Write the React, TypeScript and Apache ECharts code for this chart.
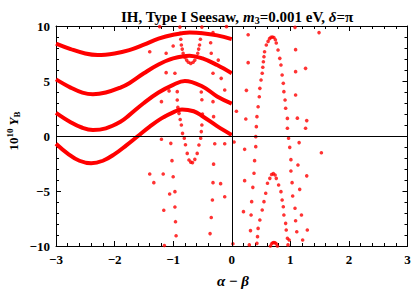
import React, { useEffect, useRef } from "react";
import * as echarts from "echarts";

// Continuous (dense) curves: [alpha - beta, 10^10 Y_B]
const curveA: number[][] = [
  [-3, 8.4], [-2.75, 7.9], [-2.5, 7.5], [-2.29, 7.36], [-2, 7.5], [-1.75, 7.8], [-1.5, 8.3],
  [-1.25, 8.85], [-1, 9.2], [-0.72, 9.4], [-0.5, 9.35], [-0.25, 9.15], [0, 8.8],
];
const curveB: number[][] = [
  [-3, 5.15], [-2.75, 4.4], [-2.55, 3.95], [-2.37, 3.8], [-2.15, 3.95], [-1.9, 4.4], [-1.75, 4.8],
  [-1.5, 5.7], [-1.25, 6.5], [-1, 7.05], [-0.72, 7.3], [-0.5, 7.05], [-0.25, 6.45], [0, 5.7],
];
const curveC: number[][] = [
  [-3, 2.1], [-2.75, 1.25], [-2.55, 0.75], [-2.37, 0.55], [-2.15, 0.7], [-1.9, 1.3], [-1.75, 1.9],
  [-1.5, 3.0], [-1.25, 3.95], [-1, 4.65], [-0.8, 5.0], [-0.5, 4.5], [-0.25, 3.6], [0, 2.95],
];
const curveD: number[][] = [
  [-3, -0.7], [-2.8, -1.6], [-2.6, -2.25], [-2.4, -2.48], [-2.2, -2.25], [-2, -1.65], [-1.8, -0.85],
  [-1.6, 0], [-1.4, 0.85], [-1.2, 1.6], [-1, 2.15], [-0.85, 2.42], [-0.65, 2.25], [-0.5, 1.8],
  [-0.25, 0.9], [0, 0.1],
];

// Dotted pole structures
const upperU: number[][] = [
  [-0.885, 9.9], [-0.88, 9.34], [-0.87, 8.8], [-0.86, 8.27], [-0.845, 7.9], [-0.83, 7.52],
  [-0.8, 7.15], [-0.77, 6.9], [-0.74, 6.7], [-0.7, 6.6], [-0.66, 6.7], [-0.63, 6.9],
  [-0.6, 7.2], [-0.58, 7.52], [-0.565, 7.9], [-0.55, 8.27], [-0.535, 8.8], [-0.52, 9.34], [-0.51, 9.9],
];
const lowerU: number[][] = [
  [-0.93, 4.03], [-0.93, 3.27], [-0.92, 2.6], [-0.9, 2.06], [-0.88, 1.5], [-0.86, 1.0],
  [-0.84, 0.24], [-0.81, -0.2], [-0.79, -0.8], [-0.76, -1.58], [-0.73, -2.18], [-0.7, -2.38],
  [-0.67, -2.42], [-0.63, -2.12], [-0.59, -1.58], [-0.56, -0.82], [-0.53, -0.2], [-0.52, 0.4],
  [-0.51, 1.0], [-0.5, 2.0], [-0.51, 3.3], [-0.52, 4.0],
];
const upperPeak: number[][] = [
  [0.3, -9.9], [0.32, -8.6], [0.33, -7.18], [0.34, -5.97], [0.36, -4.67], [0.38, -3.39],
  [0.39, -2.24], [0.41, -0.97], [0.41, -0.06], [0.42, 0.85], [0.43, 1.76], [0.45, 2.66],
  [0.47, 3.57], [0.48, 4.33], [0.5, 5.09], [0.52, 5.7], [0.53, 6.25], [0.54, 6.75],
  [0.55, 7.21], [0.56, 7.66], [0.59, 8.27], [0.62, 8.6], [0.645, 8.85], [0.67, 8.97],
  [0.695, 9.0], [0.72, 8.95], [0.745, 8.75], [0.76, 8.45], [0.79, 7.82], [0.82, 7.06],
  [0.84, 6.45], [0.86, 5.55], [0.88, 4.79], [0.89, 4.03], [0.91, 3.27], [0.92, 2.52],
  [0.95, 1.6], [0.95, 0.7], [0.97, -0.2], [0.99, -1.03], [1.01, -2.15], [1.01, -3.18],
  [1.03, -4.24], [1.04, -5.45], [1.08, -6.57], [1.09, -7.7], [1.11, -8.7],
];
const lowerPeak: number[][] = [
  [0.43, -9.76], [0.44, -9.15], [0.45, -8.4], [0.48, -7.64], [0.52, -6.73], [0.55, -5.97],
  [0.58, -5.2], [0.61, -4.3], [0.65, -3.85], [0.68, -3.5], [0.71, -3.42], [0.74, -3.55],
  [0.76, -3.85], [0.8, -4.45], [0.84, -5.06], [0.86, -5.82], [0.88, -6.43], [0.89, -7.18],
  [0.92, -7.94], [0.93, -8.55], [0.95, -9.3], [0.96, -9.9],
];
const bottomArc: number[][] = [
  [0.66, -10], [0.68, -9.8], [0.7, -9.7], [0.72, -9.68], [0.74, -9.7], [0.76, -9.8], [0.78, -10],
];

// Isolated dots
const strayDots: number[][] = [
  [-1.23, 9.94], [-1.4, 7.66], [-1.12, 7.52], [-1.0, 8.18], [-1.12, 5.76], [-0.97, 5.7],
  [-1.07, 4.1], [-1.2, 3.12], [-1.15, 1.76], [-1.2, -0.3], [-1.04, -0.67],
  [-0.09, 9.94], [-0.32, 9.4], [-0.36, 8.48], [-0.35, 7.52], [-0.23, 6.9], [-0.32, 5.7],
  [-0.18, 5.24], [-0.12, 4.18], [-0.32, 3.12], [0.08, 2.25], [-0.31, 1.76], [-0.29, -0.7],
  [-0.12, -0.7], [0.04, -0.55],
  [-1.02, -2.24], [-1.4, -3.45], [-1.17, -3.45], [-1.0, -3.7], [-1.33, -4.24], [-0.97, -5.06],
  [-1.06, -5.27], [-1.16, -6.75], [-0.97, -6.45], [-0.96, -7.79], [-0.95, -9.07], [-1.15, -9.95],
  [-0.31, -2.56], [-0.32, -4.24], [-0.19, -4.33], [-0.12, -5.52], [-0.33, -5.82], [-0.35, -7.41],
  [-0.37, -8.87], [0.02, -9.8],
  [0.28, 9.2], [1.08, 9.88], [1.49, 9.4], [1.09, 7.85], [0.28, 6.67], [1.09, 5.85], [1.26, 6.15],
  [0.25, 4.15], [1.09, 3.73], [0.24, 1.55], [1.12, 1.62], [1.28, 1.4], [1.26, 0.7],
  [0.22, -1.21], [0.22, -4.06], [0.2, -6.88], [0.98, -9.45], [1.15, -0.6], [1.13, -2.64],
  [1.28, -3.62], [1.16, -4.85], [1.19, -7.18], [1.29, -8.55], [1.21, -9.45], [1.53, -1.52],
];

const xTicks = { min: -3, max: 3, interval: 1 };
const yTicks = { min: -10, max: 10, interval: 5 };

const RED = "#ff0000";
const FONT = '"Liberation Serif", "Times New Roman", serif';

const fmt = (v: number) => (v < 0 ? "\u2212" + Math.abs(v) : String(v));

export default function App() {
  const ref = useRef<HTMLDivElement>(null);
  useEffect(() => {
    if (!ref.current) return;
    const chart = echarts.init(ref.current, undefined, { renderer: "svg" });
    const axisCommon = {
      type: "value" as const,
      axisLine: { show: true, onZero: false, lineStyle: { color: "#000", width: 1 } },
      axisTick: { show: true, inside: true, length: 5, lineStyle: { color: "#000" } },
      minorTick: { show: true, splitNumber: 5, length: 3, lineStyle: { color: "#000" } },
      splitLine: { show: false },
      minorSplitLine: { show: false },
    };
    const labelStyle = {
      fontFamily: FONT,
      fontWeight: "bold" as const,
      fontSize: 13,
      color: "#000",
      formatter: fmt,
    };
    const lineSeries = (data: number[][]) => ({
      type: "line",
      data,
      smooth: 0.4,
      showSymbol: false,
      symbol: "none",
      lineStyle: { color: RED, width: 4 },
      z: 3,
    });
    const dotSeries = (data: number[][]) => ({
      type: "scatter",
      data,
      symbolSize: 3.6,
      itemStyle: { color: RED },
      z: 4,
    });
    chart.setOption({
      animation: false,
      title: {
        left: 232,
        top: 3,
        textAlign: "center",
        text: "{b|IH, Type I Seesaw, }{i|m}{s|3}{b|=0.001 eV, }{i|\u03b4}{b|=\u03c0}",
        textStyle: {
          rich: {
            b: { fontFamily: FONT, fontWeight: "bold", fontSize: 15, color: "#000", lineHeight: 17 },
            i: { fontFamily: FONT, fontWeight: "bold", fontStyle: "italic", fontSize: 15, color: "#000", lineHeight: 17 },
            s: { fontFamily: FONT, fontWeight: "bold", fontSize: 10, color: "#000", lineHeight: 10, verticalAlign: "bottom" },
          },
        },
      },
      grid: { left: 56, right: 7.5, top: 26, bottom: 46, containLabel: false },
      xAxis: [
        { ...axisCommon, ...xTicks, position: "bottom", axisLabel: { ...labelStyle, margin: 7 } },
        { ...axisCommon, ...xTicks, position: "top", axisLabel: { show: false } },
      ],
      yAxis: [
        { ...axisCommon, ...yTicks, position: "left", axisLabel: { ...labelStyle, margin: 6 } },
        { ...axisCommon, ...yTicks, position: "right", axisLabel: { show: false } },
      ],
      graphic: [
        {
          type: "text",
          x: 13,
          y: 131,
          rotation: Math.PI / 2,
          style: {
            text: "{b|10}{sup|10}{i| Y}{s|B}",
            align: "center",
            verticalAlign: "middle",
            rich: {
              b: { fontFamily: FONT, fontWeight: "bold", fontSize: 13, fill: "#000", lineHeight: 16 },
              sup: { fontFamily: FONT, fontWeight: "bold", fontSize: 9, fill: "#000", lineHeight: 9, verticalAlign: "top" },
              i: { fontFamily: FONT, fontWeight: "bold", fontStyle: "italic", fontSize: 13, fill: "#000", lineHeight: 16 },
              s: { fontFamily: FONT, fontWeight: "bold", fontSize: 9, fill: "#000", lineHeight: 9, verticalAlign: "bottom" },
            },
          },
        },
        {
          type: "text",
          x: 233,
          y: 281,
          style: {
            text: "{i|\u03b1}{b| \u2212 }{i|\u03b2}",
            align: "center",
            verticalAlign: "middle",
            rich: {
              b: { fontFamily: FONT, fontWeight: "bold", fontSize: 15, fill: "#000" },
              i: { fontFamily: FONT, fontWeight: "bold", fontStyle: "italic", fontSize: 15, fill: "#000" },
            },
          },
        },
      ],
      series: [
        {
          type: "line",
          data: [],
          markLine: {
            silent: true,
            symbol: ["none", "none"],
            label: { show: false },
            lineStyle: { color: "#000", width: 1, type: "solid" },
            data: [{ xAxis: 0 }, { yAxis: 0 }],
          },
          z: 2,
        },
        lineSeries(curveA),
        lineSeries(curveB),
        lineSeries(curveC),
        lineSeries(curveD),
        dotSeries(upperU),
        dotSeries(lowerU),
        dotSeries(upperPeak),
        dotSeries(lowerPeak),
        dotSeries(bottomArc),
        dotSeries(strayDots),
      ],
    });
    return () => chart.dispose();
  }, []);
  return <div ref={ref} style={{ width: 415, height: 292, position: "absolute", left: 0, top: 0 }} />;
}
